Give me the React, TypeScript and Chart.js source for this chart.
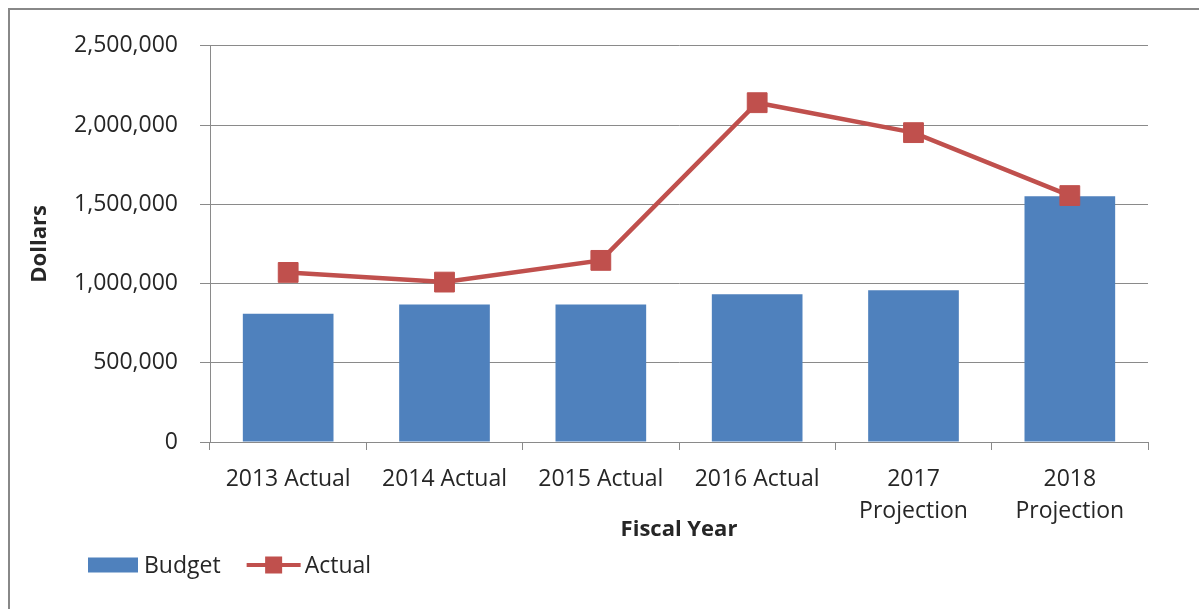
import React, { useEffect, useRef } from 'react';
import { Chart, registerables } from 'chart.js';

Chart.register(...registerables);

const categories: (string | string[])[] = [
  '2013 Actual',
  '2014 Actual',
  '2015 Actual',
  '2016 Actual',
  ['2017', 'Projection'],
  ['2018', 'Projection'],
];
const budgetValues = [810000, 867000, 867000, 932000, 957000, 1551000];
const actualValues = [1070000, 1009000, 1146000, 2141000, 1952000, 1555000];
const yTickValues = [0, 500000, 1000000, 1500000, 2000000, 2500000];

const FONT = '"Open Sans", "DejaVu Sans", sans-serif';
const TEXT = '#262626';
const GRID = '#8a8a8a';
const BLUE = '#4F81BD';
const RED = '#C0504D';

const legendPlugin = {
  id: 'officeLegend',
  afterDraw(chart: any) {
    const ctx = chart.ctx as CanvasRenderingContext2D;
    const ds = chart.data.datasets;
    const y = 555;
    ctx.save();
    ctx.font = `23px ${FONT}`;
    ctx.textBaseline = 'middle';
    ctx.textAlign = 'left';
    let x = 78;
    // Budget (bar)
    ctx.fillStyle = ds[0].backgroundColor;
    ctx.fillRect(x, y - 7.5, 50, 15);
    x += 56;
    ctx.fillStyle = TEXT;
    ctx.fillText(ds[0].label, x, y + 1);
    x += ctx.measureText(ds[0].label).width + 26;
    // Actual (line + marker)
    ctx.strokeStyle = ds[1].borderColor;
    ctx.lineWidth = 4;
    ctx.beginPath();
    ctx.moveTo(x, y);
    ctx.lineTo(x + 54, y);
    ctx.stroke();
    ctx.fillStyle = ds[1].pointBackgroundColor;
    ctx.fillRect(x + 27 - 8.5, y - 8.5, 17, 17);
    x += 58;
    ctx.fillStyle = TEXT;
    ctx.fillText(ds[1].label, x, y + 1);
    ctx.restore();
  },
};

export default function App() {
  const ref = useRef<HTMLCanvasElement | null>(null);

  useEffect(() => {
    if (!ref.current) return;
    const chart = new Chart(ref.current, {
      type: 'bar',
      data: {
        labels: categories as any,
        datasets: [
          {
            type: 'bar',
            label: 'Budget',
            data: budgetValues,
            backgroundColor: BLUE,
            borderWidth: 0,
            barPercentage: 0.58,
            categoryPercentage: 1,
            order: 1,
          } as any,
          {
            type: 'line',
            label: 'Actual',
            data: actualValues,
            borderColor: RED,
            backgroundColor: RED,
            borderWidth: 4.5,
            tension: 0,
            pointStyle: 'rect',
            pointRadius: 14,
            pointBackgroundColor: RED,
            pointBorderColor: RED,
            pointBorderWidth: 1,
            order: 0,
          } as any,
        ],
      },
      options: {
        animation: false,
        responsive: false,
        events: [],
        layout: { padding: { left: 0, right: 51, top: 35, bottom: 65.8 } },
        plugins: {
          legend: { display: false },
          tooltip: { enabled: false },
        },
        scales: {
          x: {
            grid: {
              drawOnChartArea: false,
              drawTicks: true,
              tickLength: 8,
              color: GRID,
              offset: true,
            },
            border: { color: GRID, width: 1 },
            ticks: {
              color: TEXT,
              font: { family: FONT, size: 23, lineHeight: 1.4 },
              padding: 13,
              maxRotation: 0,
              autoSkip: false,
            },
            title: {
              display: true,
              text: 'Fiscal Year',
              color: TEXT,
              font: { family: FONT, size: 22, weight: 'bold' },
              padding: 0,
            },
            afterFit(scale: any) {
              scale.height = 101.2;
            },
          },
          y: {
            min: 0,
            max: 2500000,
            afterBuildTicks(scale: any) {
              scale.ticks = yTickValues.map((v) => ({ value: v }));
            },
            grid: {
              color: GRID,
              tickLength: 10,
              drawTicks: true,
            },
            border: { color: GRID, width: 1 },
            ticks: {
              color: TEXT,
              font: { family: FONT, size: 23 },
              padding: 22,
              callback: (v: any) => Number(v).toLocaleString('en-US'),
            },
            title: {
              display: true,
              text: 'Dollars',
              color: TEXT,
              font: { family: FONT, size: 22, weight: 'bold' },
              padding: { top: 16.8, bottom: 0 },
            },
            afterFit(scale: any) {
              scale.width = 200;
            },
          },
        },
      },
      plugins: [legendPlugin],
    });
    return () => chart.destroy();
  }, []);

  return (
    <div
      style={{
        position: 'fixed',
        left: 8,
        top: 8,
        width: 1300,
        height: 700,
        border: '2px solid #888888',
        boxSizing: 'border-box',
        background: '#ffffff',
      }}
    >
      <canvas
        ref={ref}
        width={1189}
        height={599}
        style={{ position: 'absolute', left: 0, top: 0, width: 1189, height: 599 }}
      />
    </div>
  );
}
